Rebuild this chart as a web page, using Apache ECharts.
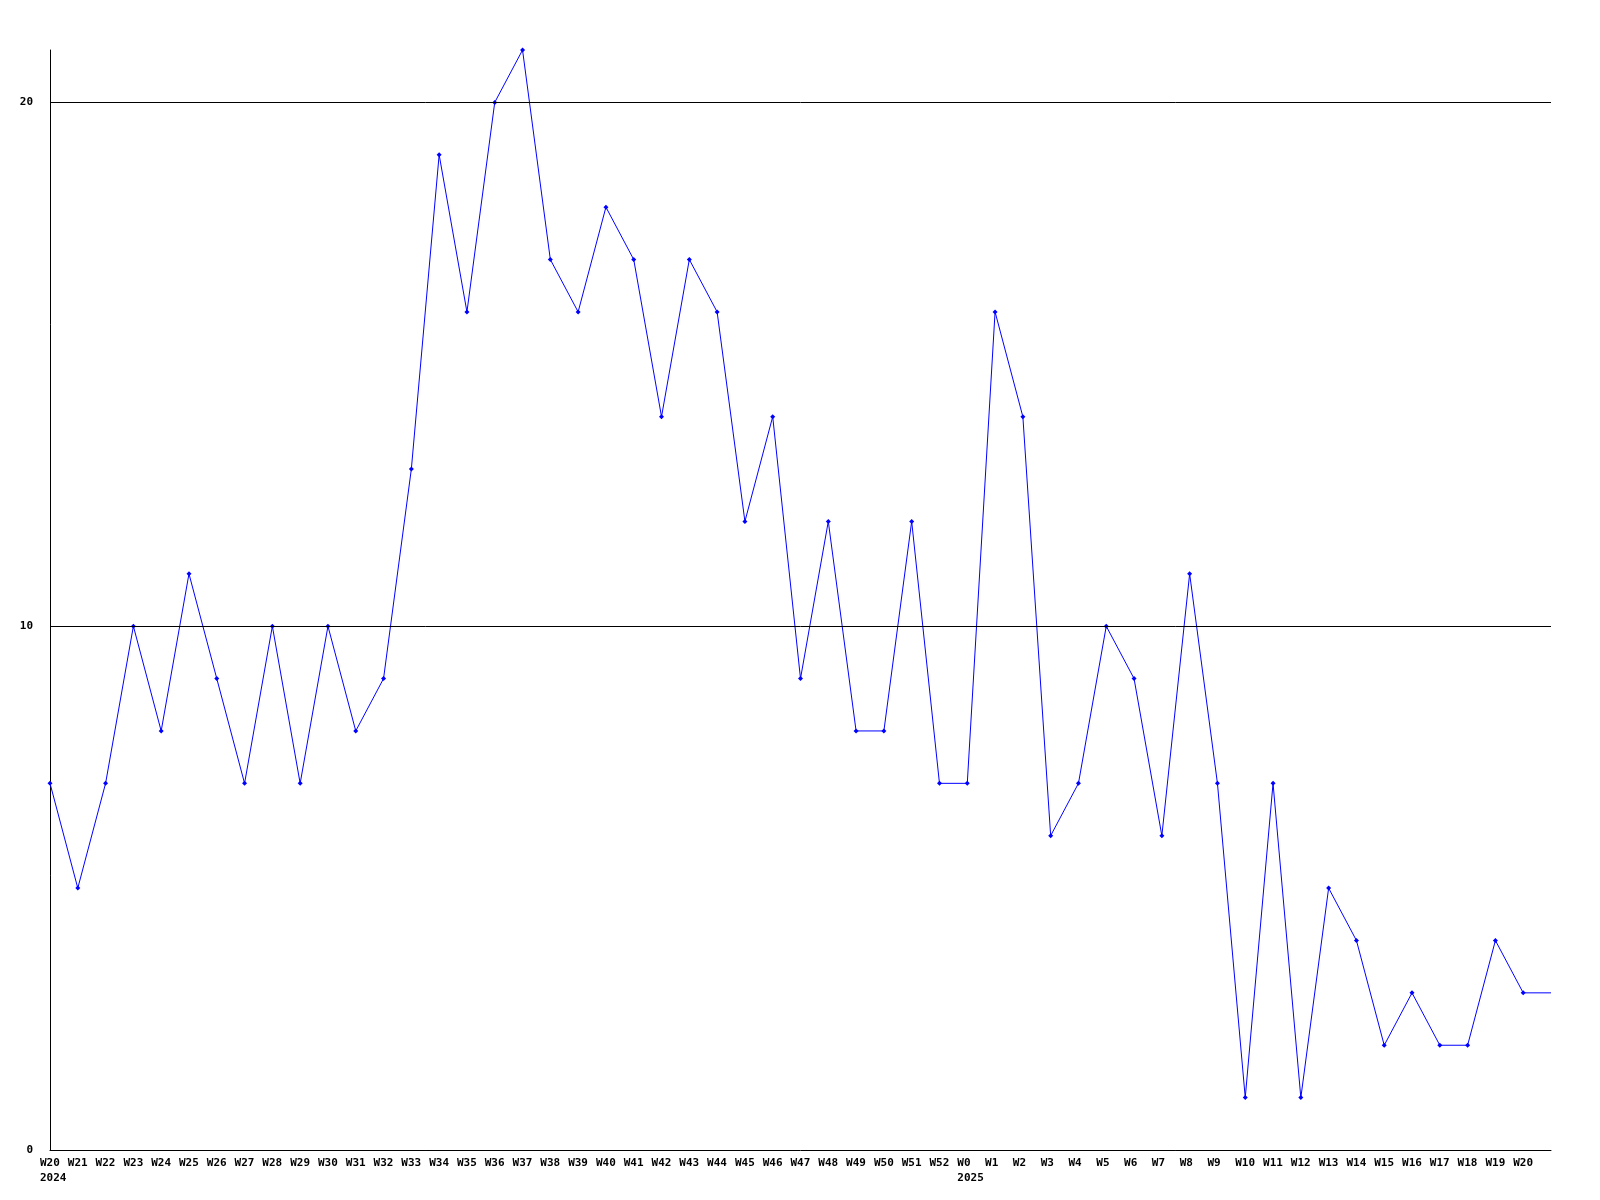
<!DOCTYPE html>
<html>
<head>
<meta charset="utf-8">
<script src="https://cdn.jsdelivr.net/npm/echarts@6/dist/echarts.min.js"></script>
<style>html,body{margin:0;padding:0;background:#fff}#c{width:1600px;height:1200px}</style>
</head>
<body>
<div id="c"></div>
<script>
const weeks = ['W20','W21','W22','W23','W24','W25','W26','W27','W28','W29','W30','W31','W32','W33','W34','W35','W36','W37','W38','W39','W40','W41','W42','W43','W44','W45','W46','W47','W48','W49','W50','W51','W52','W0','W1','W2','W3','W4','W5','W6','W7','W8','W9','W10','W11','W12','W13','W14','W15','W16','W17','W18','W19','W20'];
const values = [7,5,7,10,8,11,9,7,10,7,10,8,9,13,19,16,20,21,17,16,18,17,14,17,16,12,14,9,12,8,8,12,7,7,16,14,6,7,10,9,6,11,7,1,7,1,5,4,2,3,2,2,4,3];
const yearLabels = ['2024','2025'];
const yearIndex = [0, 33];
const yTicks = [10, 20];

const font = 'DejaVu Sans Mono';
const n = weeks.length;
const mainData = values.map((v, i) => [i, v]);
const tailData = [[n - 1, values[n - 1]], [n, values[n - 1]]];

const chart = echarts.init(document.getElementById('c'), null, {renderer: 'canvas'});
chart.setOption({
  animation: false,
  backgroundColor: '#ffffff',
  grid: {left: 50, right: 49, top: 50, bottom: 50, containLabel: false},
  xAxis: {
    type: 'value', min: 0, max: n, interval: 1,
    axisLine: {show: true, lineStyle: {color: '#000', width: 1}},
    axisTick: {show: false},
    splitLine: {show: false},
    axisLabel: {
      margin: 6,
      showMaxLabel: false,
      formatter: function (val) {
        const i = Math.round(val);
        if (i < 0 || i >= n) return '';
        const yi = yearIndex.indexOf(i);
        let s = '{a|' + weeks[i] + '}';
        if (yi >= 0) s += '\n{a|' + yearLabels[yi] + '}';
        return s;
      },
      rich: {
        a: {width: 20, align: 'left', fontFamily: font, fontWeight: 'bold', fontSize: 11, color: '#000', lineHeight: 15}
      }
    }
  },
  yAxis: {
    type: 'value', min: 0, max: 21, interval: 10,
    axisLine: {show: true, lineStyle: {color: '#000', width: 1}},
    axisTick: {show: false},
    splitLine: {show: false},
    axisLabel: {
      margin: 17, showMaxLabel: false,
      fontFamily: font, fontWeight: 'bold', fontSize: 11, color: '#000'
    }
  },
  series: [
    {
      type: 'line', data: mainData,
      symbol: 'diamond', symbolSize: 5,
      itemStyle: {color: '#0000ff'},
      lineStyle: {color: '#0000ff', width: 1},
      markLine: {
        silent: true, symbol: 'none', label: {show: false},
        lineStyle: {color: '#000', width: 1, type: 'solid'},
        data: yTicks.map(t => ({yAxis: t}))
      },
      z: 3
    },
    {
      type: 'line', data: tailData, symbol: 'none',
      lineStyle: {color: '#0000ff', width: 1}, z: 3
    }
  ]
});
</script>
</body>
</html>
